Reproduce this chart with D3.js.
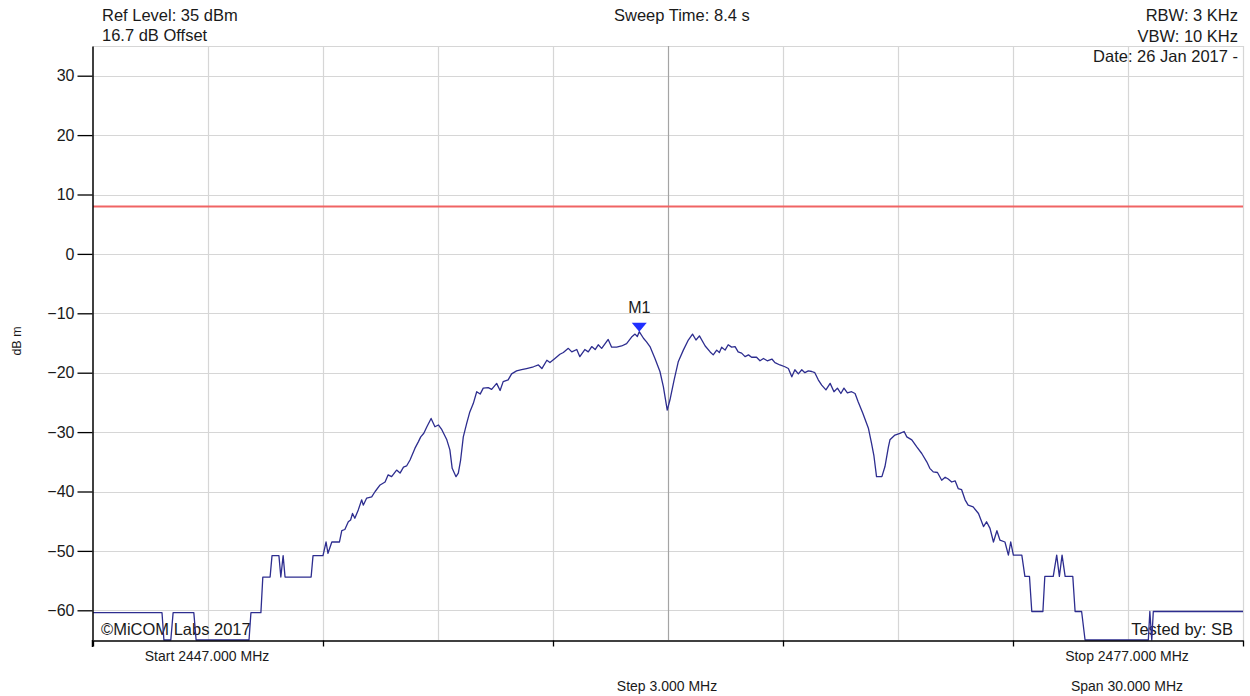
<!DOCTYPE html>
<html><head><meta charset="utf-8">
<script src="https://cdn.jsdelivr.net/npm/d3@7"></script>
<style>
body{margin:0;background:#fff;}
text{font-family:"Liberation Sans",Arial,sans-serif;fill:#1a1a1a;}
</style>
</head><body>
<svg id="c" width="1250" height="696"></svg>
<script>
// ---- data ----
const freqMHz = [
2447.00,2448.80,2448.85,2449.03,2449.09,2449.63,2449.69,2451.07,2451.12,2451.38,
2451.43,2451.62,2451.67,2451.85,2451.90,2451.96,2452.01,2452.69,2452.74,2453.00,
2453.08,2453.13,2453.23,2453.43,2453.49,2453.57,2453.66,2453.72,2453.77,2453.83,
2453.92,2454.01,2454.05,2454.14,2454.27,2454.36,2454.49,2454.62,2454.70,2454.79,
2454.92,2455.01,2455.10,2455.18,2455.27,2455.40,2455.49,2455.55,2455.63,2455.71,
2455.82,2455.92,2456.01,2456.10,2456.23,2456.31,2456.37,2456.47,2456.53,2456.59,
2456.66,2456.75,2456.83,2456.92,2457.01,2457.10,2457.18,2457.31,2457.40,2457.53,
2457.62,2457.70,2457.83,2457.92,2458.05,2458.18,2458.31,2458.49,2458.62,2458.71,
2458.84,2458.92,2459.05,2459.18,2459.27,2459.40,2459.49,2459.62,2459.70,2459.83,
2459.92,2460.01,2460.10,2460.18,2460.27,2460.36,2460.44,2460.53,2460.66,2460.79,
2460.92,2461.05,2461.14,2461.20,2461.25,2461.36,2461.44,2461.53,2461.66,2461.79,
2461.88,2461.98,2462.05,2462.16,2462.27,2462.40,2462.53,2462.64,2462.73,2462.82,
2462.97,2463.10,2463.18,2463.27,2463.34,2463.40,2463.49,2463.57,2463.66,2463.75,
2463.83,2463.92,2464.01,2464.10,2464.18,2464.31,2464.40,2464.49,2464.59,2464.71,
2464.79,2464.92,2465.05,2465.14,2465.23,2465.31,2465.40,2465.49,2465.57,2465.66,
2465.75,2465.83,2465.92,2466.01,2466.12,2466.23,2466.33,2466.42,2466.51,2466.59,
2466.68,2466.79,2466.88,2466.96,2467.08,2467.23,2467.31,2467.37,2467.44,2467.58,
2467.66,2467.75,2467.79,2467.92,2468.05,2468.16,2468.23,2468.36,2468.49,2468.62,
2468.75,2468.83,2468.92,2469.03,2469.14,2469.23,2469.31,2469.40,2469.49,2469.57,
2469.66,2469.75,2469.83,2469.96,2470.10,2470.23,2470.31,2470.40,2470.49,2470.58,
2470.66,2470.79,2470.88,2470.94,2471.01,2471.23,2471.31,2471.43,2471.49,2471.78,
2471.83,2472.05,2472.14,2472.21,2472.28,2472.36,2472.56,2472.62,2472.79,2472.88,
2474.53,2474.57,2474.62,2474.66,2477.00
];
const levelDbm = [
-60.4,-60.4,-65,-65,-60.4,-60.4,-65,-65,-60.4,-60.4,
-54.4,-54.4,-50.8,-50.8,-54.4,-50.8,-54.4,-54.4,-50.8,-50.8,
-48.5,-50.4,-48.5,-48.5,-46.6,-46.4,-45.1,-44.8,-43.7,-44.5,
-43.1,-41.4,-42.3,-41.1,-40.9,-40.0,-38.9,-38.4,-37.2,-37.5,
-36.4,-36.9,-35.9,-35.7,-34.7,-32.7,-31.6,-30.8,-30.2,-29.1,
-27.7,-29.1,-28.8,-29.6,-31.3,-33.0,-36.1,-37.5,-36.9,-34.7,
-30.8,-28.5,-26.6,-25.2,-23.2,-23.6,-22.6,-22.5,-22.8,-21.8,
-23.0,-21.5,-21.2,-20.2,-19.7,-19.5,-19.3,-19.0,-18.7,-19.3,
-17.9,-18.3,-17.6,-16.9,-16.6,-15.9,-16.5,-16.1,-17.3,-16.1,
-16.5,-15.6,-16.1,-15.3,-15.9,-15.1,-14.4,-15.7,-15.7,-15.5,
-15.1,-14.0,-13.5,-13.9,-13.1,-14.2,-14.8,-15.6,-17.6,-19.8,
-22.4,-26.3,-24.6,-21.2,-18.1,-16.2,-14.5,-13.5,-14.5,-13.8,
-15.5,-16.5,-17.0,-16.2,-16.6,-15.7,-16.2,-15.3,-15.7,-15.6,
-16.5,-16.7,-17.3,-17.0,-17.4,-17.4,-18.0,-17.6,-18.0,-17.7,
-18.3,-18.7,-19.0,-19.3,-20.7,-19.5,-20.2,-19.5,-20.0,-19.7,
-19.8,-20.0,-21.2,-22.1,-22.9,-21.8,-23.2,-22.6,-23.5,-22.6,
-23.4,-23.2,-23.5,-24.9,-26.8,-29.4,-31.9,-33.9,-37.5,-37.5,
-35.8,-32.5,-31.3,-30.5,-30.2,-29.9,-30.8,-31.3,-32.5,-33.6,
-35.0,-36.1,-36.7,-36.8,-38.1,-37.6,-37.9,-38.4,-38.2,-39.5,
-39.7,-41.4,-42.3,-42.6,-43.7,-45.9,-45.1,-46.2,-48.5,-46.6,
-48.2,-48.5,-50.7,-48.5,-50.7,-50.7,-54.3,-54.3,-60.2,-60.2,
-54.3,-54.3,-50.7,-54.3,-50.7,-54.3,-54.3,-60.2,-60.2,-65,
-65,-60.2,-65,-60.2,-60.2
];
const yTickValues = [-60,-50,-40,-30,-20,-10,0,10,20,30];
const xTickValues = [2447,2453,2459,2465,2471,2477];
const xGridValues = [2450,2453,2456,2459,2462,2465,2468,2471,2474];
const centerFreq = 2462;
const limitDbm = 8;
const markerFreq = 2461.25, markerLevel = -13.1, markerName = "M1";
const headerLeft = ["Ref Level: 35 dBm","16.7 dB Offset"];
const headerCenter = "Sweep Time: 8.4 s";
const headerRight = ["RBW: 3 KHz","VBW: 10 KHz","Date: 26 Jan 2017 -"];
const bottomLabels = [
  {f:2450, rows:["Start 2447.000 MHz"]},
  {f:2462, rows:["","Step 3.000 MHz"]},
  {f:2474, rows:["Stop 2477.000 MHz","Span 30.000 MHz"]}
];
const yLabel = "dB m";
const copyright = "©MiCOM Labs 2017";
const testedBy = "Tested by: SB";

// ---- drawing ----
const svg = d3.select("#c");
const x = d3.scaleLinear().domain([2447,2477]).range([93,1243]);
const y = d3.scaleLinear().domain([-65,35]).range([640,46]);
const [x0,x1] = x.range(); const [yb,yt] = y.range();

svg.append("rect").attr("width",1250).attr("height",696).attr("fill","#fff");

const grid = svg.append("g");
grid.selectAll("line.h").data(yTickValues.concat([35])).join("line")
  .attr("x1",x0).attr("x2",x1)
  .attr("y1",d=>Math.round(y(d))+0.5).attr("y2",d=>Math.round(y(d))+0.5)
  .attr("stroke","#d6d6d6").attr("stroke-width",1.2);
grid.selectAll("line.v").data(xGridValues.concat([2477])).join("line")
  .attr("x1",d=>Math.round(x(d))+0.5).attr("x2",d=>Math.round(x(d))+0.5)
  .attr("y1",yt).attr("y2",yb)
  .attr("stroke",d=>d===centerFreq?"#a4a4a4":"#d6d6d6").attr("stroke-width",1.2);

// limit line
svg.append("line").attr("x1",x0).attr("x2",x1)
  .attr("y1",y(limitDbm)).attr("y2",y(limitDbm))
  .attr("stroke","#f06464").attr("stroke-width",2);

// overlay texts
svg.append("text").attr("x",101).attr("y",635).attr("font-size","16.5px").text(copyright);
svg.append("text").attr("x",1233).attr("y",635).attr("text-anchor","end").attr("font-size","16.5px").text(testedBy);

// trace
svg.append("clipPath").attr("id","pc").append("rect")
  .attr("x",x0).attr("y",yt).attr("width",x1-x0).attr("height",yb-yt+1);
const pts = freqMHz.map((f,i)=>[f,levelDbm[i]]);
svg.append("path").datum(pts).attr("clip-path","url(#pc)")
  .attr("fill","none").attr("stroke","#2d2d8f").attr("stroke-width",1.3)
  .attr("stroke-linejoin","round")
  .attr("d",d3.line().x(d=>x(d[0])).y(d=>y(d[1])));

// axes
const ya = svg.append("g").attr("transform","translate(92.5,0)")
  .call(d3.axisLeft(y).tickValues(yTickValues).tickSize(15).tickPadding(3).tickSizeOuter(0));
ya.select(".domain").attr("stroke","#000").attr("stroke-width",1.5);
ya.selectAll(".tick line").attr("stroke","#000").attr("stroke-width",1.3);
ya.selectAll(".tick text").attr("font-size","16px").attr("fill","#1a1a1a")
  .attr("font-family","Liberation Sans, Arial, sans-serif");
svg.append("line").attr("x1",92.5).attr("x2",92.5).attr("y1",yb).attr("y2",647)
  .attr("stroke","#000").attr("stroke-width",1.5);

const xa = svg.append("g").attr("transform",`translate(0,${yb+0.5})`)
  .call(d3.axisBottom(x).tickValues(xTickValues).tickSize(6).tickFormat("").tickSizeOuter(0));
xa.select(".domain").attr("stroke","#000").attr("stroke-width",1.5);
xa.selectAll(".tick line").attr("stroke","#000").attr("stroke-width",1.3);

// bottom labels
bottomLabels.forEach(b=>{
  b.rows.forEach((t,i)=>{
    if(!t) return;
    svg.append("text").attr("x",x(b.f)-1).attr("y",661+i*30)
      .attr("text-anchor","middle").attr("font-size","14px").text(t);
  });
});

// y label
svg.append("text").attr("transform","translate(21,341) rotate(-90)")
  .attr("text-anchor","middle").attr("font-size","12.5px").text(yLabel);

// header
headerLeft.forEach((t,i)=>svg.append("text").attr("x",102).attr("y",21+i*19.5)
  .attr("font-size","16.5px").text(t));
svg.append("text").attr("x",614).attr("y",21).attr("font-size","16.5px").text(headerCenter);
headerRight.forEach((t,i)=>svg.append("text").attr("x",1238).attr("y",21+i*20.5)
  .attr("text-anchor","end").attr("font-size","16.5px").text(t));

// marker
const mx = x(markerFreq), my = y(markerLevel);
svg.append("path").attr("d",`M${mx},${my} L${mx-7.5},${my-9} L${mx+7.5},${my-9} Z`)
  .attr("fill","#1f2fff");
svg.append("text").attr("x",mx).attr("y",my-18.5).attr("text-anchor","middle")
  .attr("font-size","16px").attr("fill","#1c2340").text(markerName);
</script>
</body></html>
